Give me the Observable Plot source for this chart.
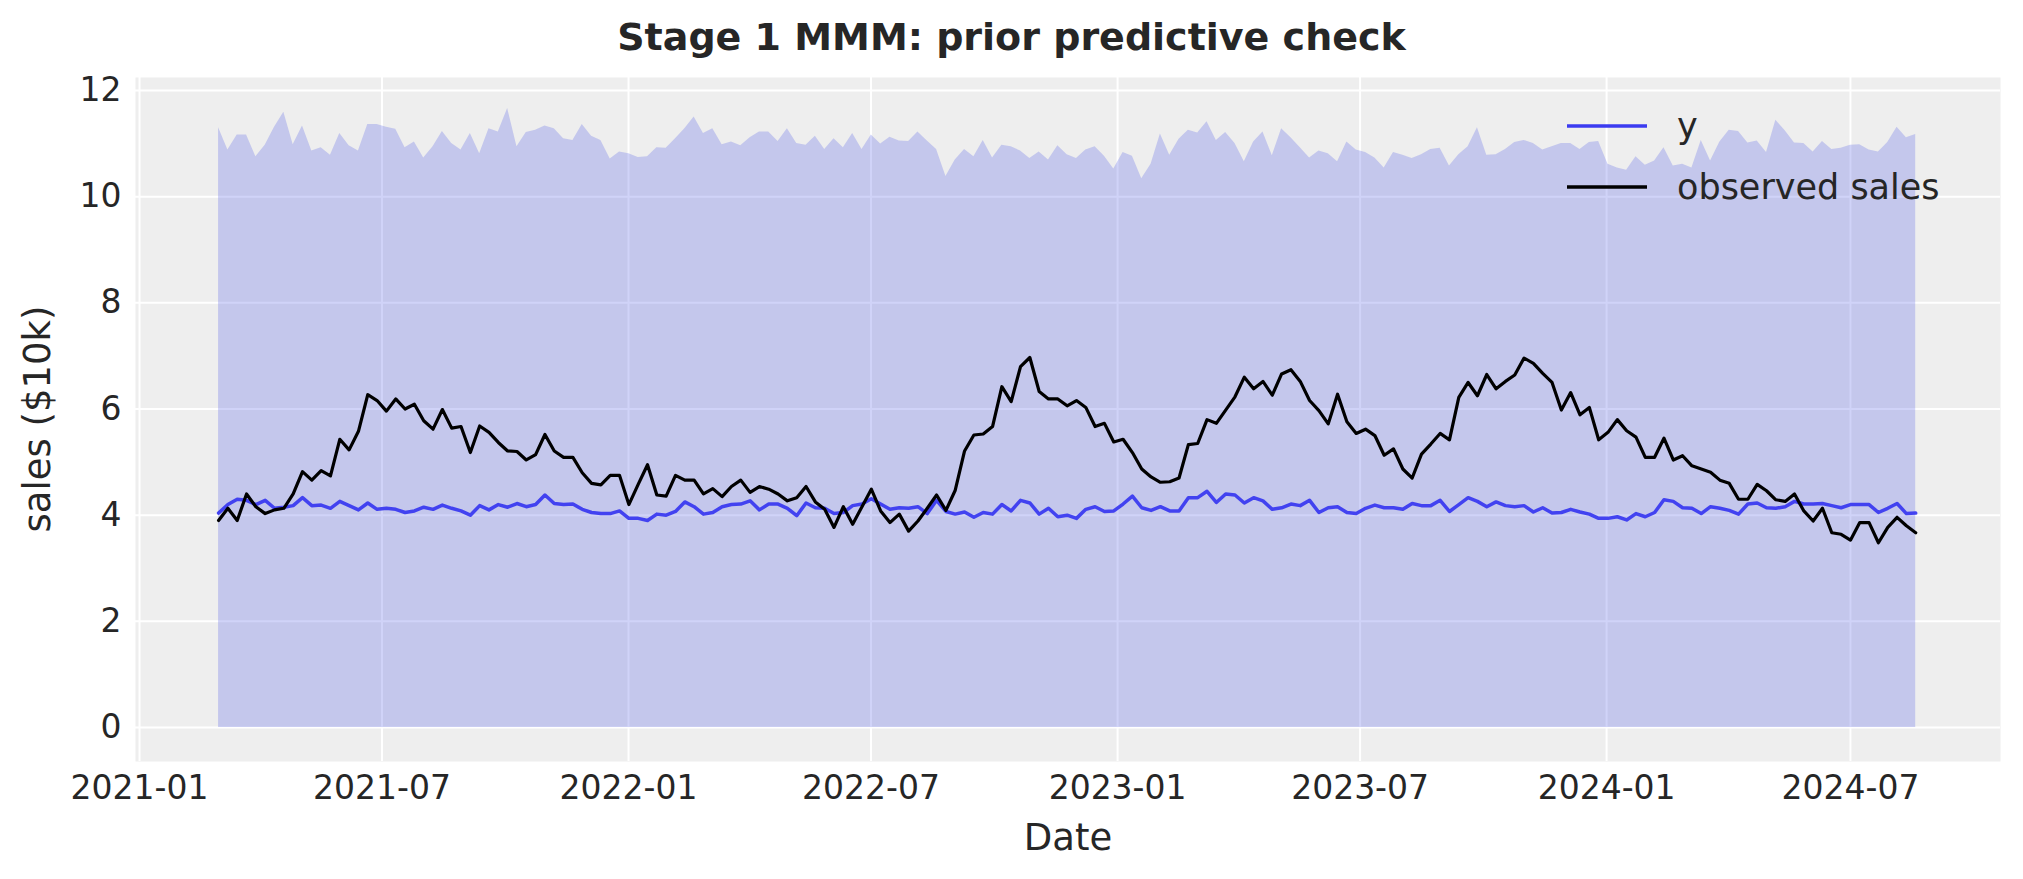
<!DOCTYPE html>
<html><head><meta charset="utf-8">
<script src="https://cdn.jsdelivr.net/npm/d3@7"></script>
<script src="https://cdn.jsdelivr.net/npm/@observablehq/plot@0.6"></script>
<style>
body{margin:0;background:#fff;font-family:"DejaVu Sans",sans-serif;}
#wrap{position:relative;width:2023px;height:879px;}
#title{position:absolute;left:0;width:2023px;top:14px;text-align:center;font-weight:bold;font-size:38px;line-height:46px;color:#262626;}
</style></head>
<body><div id="wrap"><div id="title">Stage 1 MMM: prior predictive check</div></div>
<script>
const startDate = "2021-03-01";
const observed = [3.9,4.13,3.9,4.4,4.16,4.03,4.1,4.13,4.4,4.82,4.66,4.84,4.74,5.43,5.23,5.58,6.27,6.16,5.96,6.19,6.0,6.09,5.78,5.62,5.99,5.64,5.67,5.18,5.68,5.56,5.37,5.21,5.2,5.04,5.14,5.52,5.21,5.09,5.09,4.8,4.6,4.57,4.75,4.75,4.2,4.58,4.95,4.38,
4.36,4.75,4.66,4.66,4.4,4.5,4.35,4.54,4.66,4.43,4.54,4.49,4.4,4.27,4.33,4.54,4.25,4.11,3.77,4.16,3.83,4.16,4.49,4.08,3.86,4.02,3.7,3.89,4.13,4.38,4.09,4.47,5.21,5.51,5.53,5.67,6.42,6.14,6.8,6.97,6.33,6.19,6.19,6.06,6.16,6.03,5.67,
5.73,5.38,5.43,5.18,4.87,4.72,4.62,4.63,4.7,5.33,5.35,5.8,5.73,5.98,6.23,6.6,6.38,6.52,6.26,6.66,6.74,6.52,6.16,5.97,5.72,6.28,5.76,5.54,5.62,5.5,5.13,5.25,4.87,4.7,5.15,5.34,5.54,5.42,6.22,6.5,6.25,6.65,6.38,6.52,6.64,6.96,6.86,6.67,
6.5,5.98,6.31,5.89,6.03,5.42,5.56,5.8,5.59,5.47,5.09,5.09,5.45,5.04,5.12,4.93,4.87,4.81,4.66,4.6,4.3,4.3,4.58,4.46,4.29,4.26,4.4,4.08,3.89,4.13,3.67,3.64,3.53,3.86,3.86,3.48,3.77,3.96,3.8,3.67];
const yMean = [4.04,4.2,4.3,4.28,4.2,4.28,4.13,4.15,4.18,4.33,4.18,4.19,4.13,4.26,4.18,4.1,4.23,4.11,4.13,4.11,4.05,4.08,4.15,4.11,4.19,4.13,4.08,4.0,4.18,4.1,4.2,4.15,4.22,4.16,4.2,4.38,4.22,4.2,4.21,4.11,4.05,4.03,4.03,4.08,3.94,3.94,3.9,4.02,
4.0,4.07,4.25,4.16,4.02,4.05,4.16,4.2,4.21,4.27,4.1,4.21,4.21,4.13,3.99,4.23,4.14,4.13,4.03,4.05,4.18,4.21,4.31,4.21,4.11,4.14,4.13,4.16,4.03,4.28,4.07,4.02,4.06,3.96,4.05,4.02,4.2,4.08,4.28,4.23,4.02,4.13,3.97,4.0,3.94,4.11,4.16,
4.07,4.08,4.21,4.36,4.14,4.09,4.16,4.08,4.08,4.33,4.33,4.45,4.24,4.4,4.38,4.23,4.33,4.27,4.11,4.14,4.21,4.18,4.28,4.05,4.14,4.16,4.05,4.03,4.13,4.19,4.14,4.14,4.11,4.22,4.18,4.18,4.28,4.07,4.2,4.33,4.26,4.16,4.25,4.18,4.16,4.18,4.06,4.14,
4.04,4.05,4.11,4.06,4.02,3.94,3.94,3.97,3.91,4.03,3.97,4.05,4.29,4.26,4.14,4.13,4.03,4.16,4.13,4.09,4.02,4.21,4.23,4.14,4.13,4.16,4.26,4.21,4.21,4.22,4.18,4.14,4.2,4.2,4.2,4.05,4.13,4.22,4.03,4.04];
const upper = [11.3,10.88,11.16,11.16,10.75,10.97,11.31,11.59,10.98,11.33,10.86,10.92,10.78,11.19,10.96,10.86,11.36,11.36,11.31,11.27,10.92,11.03,10.73,10.94,11.23,11.0,10.88,11.19,10.81,11.28,11.22,11.66,10.94,11.21,11.25,11.33,11.28,11.09,11.06,11.36,11.14,11.06,10.71,10.84,10.81,10.74,10.75,10.92,
10.91,11.09,11.28,11.5,11.19,11.28,10.98,11.03,10.96,11.11,11.22,11.22,11.04,11.28,11.0,10.97,11.14,10.89,11.09,10.92,11.19,10.89,11.16,10.99,11.12,11.05,11.04,11.22,11.05,10.89,10.38,10.69,10.89,10.75,11.06,10.73,10.97,10.94,10.86,10.72,10.84,10.69,10.96,10.79,10.72,10.88,10.94,
10.76,10.52,10.83,10.76,10.34,10.61,11.18,10.78,11.08,11.25,11.2,11.41,11.06,11.21,11.0,10.66,11.03,11.22,10.77,11.28,11.11,10.92,10.73,10.86,10.81,10.66,11.03,10.88,10.83,10.73,10.54,10.83,10.78,10.72,10.79,10.89,10.91,10.58,10.79,10.94,11.3,10.78,10.79,10.89,11.02,11.06,11.0,10.88,
10.94,11.0,11.0,10.89,11.02,11.04,10.61,10.54,10.5,10.75,10.59,10.67,10.92,10.58,10.61,10.54,11.06,10.67,11.03,11.25,11.23,11.01,11.05,10.83,11.44,11.24,11.01,11.0,10.84,11.04,10.89,10.91,10.97,10.98,10.88,10.84,11.02,11.31,11.11,11.17];
const lower = observed.map(() => 0);
const yTicks = [0,2,4,6,8,10,12];
const xTickLabels = ["2021-01","2021-07","2022-01","2022-07","2023-01","2023-07","2024-01","2024-07"];
const seriesNames = ["y","observed sales"];

const t0 = new Date(startDate + "T00:00:00Z");
const stepMs = 6.96*864e5;
const data = observed.map((v,i)=>({date:new Date(t0.getTime()+i*stepMs), obs:v, y:yMean[i], hi:upper[i], lo:lower[i]}));
const xTicks = xTickLabels.map(s=>new Date(s+"-01T00:00:00Z"));
const C0 = "#3b3bf0";

const plot = Plot.plot({
  width:2023, height:879,
  marginTop:77, marginBottom:118, marginLeft:135, marginRight:23,
  style:{fontFamily:"DejaVu Sans, sans-serif", fontSize:"33px", color:"#262626", background:"transparent"},
  x:{type:"utc", domain:[new Date("2020-12-29T00:00:00Z"), new Date("2024-10-21T00:00:00Z")], label:null},
  y:{domain:[-0.64,12.245], label:null},
  marks:[
    Plot.frame({fill:"#eeeeee", stroke:null}),
    Plot.ruleY(yTicks,{stroke:"white", strokeWidth:2}),
    Plot.ruleX(xTicks,{stroke:"white", strokeWidth:2}),
    Plot.areaY(data,{x:"date", y1:"lo", y2:"hi", fill:"#656ce7", fillOpacity:0.3}),
    Plot.lineY(data,{x:"date", y:"y", stroke:C0, strokeWidth:3.5, strokeOpacity:0.95}),
    Plot.lineY(data,{x:"date", y:"obs", stroke:"black", strokeWidth:3.2}),
    Plot.axisX({ticks:xTicks, tickFormat:d3.utcFormat("%Y-%m"), tickSize:0, tickPadding:14, fontSize:33, label:null}),
    Plot.axisY({ticks:yTicks, tickSize:0, tickPadding:14, fontSize:33, label:null})
  ]
});
document.getElementById("wrap").appendChild(plot);
d3.select(plot).selectAll("g[aria-label='x-axis tick label'] text, g[aria-label='y-axis tick label'] text").attr("font-size",33);

const svg = d3.select(plot);
svg.append("text").attr("x",1068).attr("y",850).attr("text-anchor","middle").attr("font-size",37).attr("fill","#262626").text("Date");
svg.append("text").attr("transform","translate(50,419) rotate(-90)").attr("text-anchor","middle").attr("font-size",37).attr("fill","#262626").text("sales ($10k)");
const lg = svg.append("g");
[C0,"black"].forEach((c,i)=>{
  const yy = 126 + i*61;
  lg.append("line").attr("x1",1567).attr("x2",1647).attr("y1",yy).attr("y2",yy).attr("stroke",c).attr("stroke-width",3.5);
  lg.append("text").attr("x",1677).attr("y",yy).attr("dy","0.35em").attr("text-anchor","start").attr("font-size",35).attr("fill","#262626").text(seriesNames[i]);
});
</script></body></html>
